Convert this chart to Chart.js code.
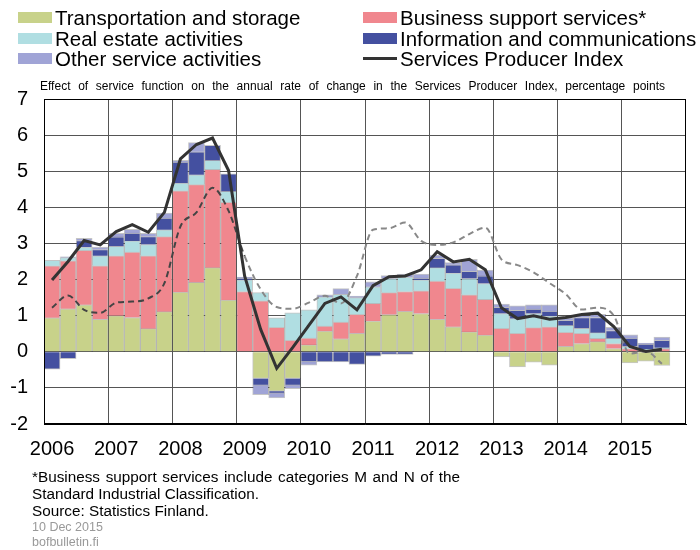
<!DOCTYPE html>
<html>
<head>
<meta charset="utf-8">
<script src="https://cdn.jsdelivr.net/npm/chart.js@4.4.1/dist/chart.umd.min.js"></script>
<style>
    body { margin: 0; background: #fff; }
    #wrap { position: relative; width: 700px; height: 550px; overflow: hidden;
            font-family: "Liberation Sans", Arial, sans-serif; color: #000; }
    #chart { position: absolute; left: 0; top: 0; }
    .leg { position: absolute; font-size: 20.5px; line-height: 21px; white-space: nowrap; }
    .box { position: absolute; width: 34px; height: 11px; top: 5px; }
    .ln { position: absolute; width: 34px; height: 3px; top: 9px; background: #333; }
    #subtitle { position: absolute; left: 40px; top: 79px; width: 625px; font-size: 12px;
                white-space: nowrap; text-align: justify; text-align-last: justify; }
    #notes { position: absolute; left: 32px; top: 468px; font-size: 15.3px; line-height: 17px; }
    #notes .first { width: 428px; white-space: nowrap; text-align: justify; text-align-last: justify; }
    #stamp { position: absolute; left: 32px; top: 520px; font-size: 12.5px; line-height: 15px; color: #999; }
</style>
</head>
<body>
<div id="wrap">
    <canvas id="chart" width="700" height="550"></canvas>
    <div id="legend"></div>
    <div id="subtitle">Effect of service function on the annual rate of change in the Services Producer Index, percentage points</div>
    <div id="notes">
        <div class="first">*Business support services include categories M and N of the</div>
        <div>Standard Industrial Classification.</div>
        <div>Source: Statistics Finland.</div>
    </div>
    <div id="stamp">10 Dec 2015<br>bofbulletin.fi</div>
</div>
<script>
const categories = [
    "2006 Q1", "2006 Q2", "2006 Q3", "2006 Q4",
    "2007 Q1", "2007 Q2", "2007 Q3", "2007 Q4",
    "2008 Q1", "2008 Q2", "2008 Q3", "2008 Q4",
    "2009 Q1", "2009 Q2", "2009 Q3", "2009 Q4",
    "2010 Q1", "2010 Q2", "2010 Q3", "2010 Q4",
    "2011 Q1", "2011 Q2", "2011 Q3", "2011 Q4",
    "2012 Q1", "2012 Q2", "2012 Q3", "2012 Q4",
    "2013 Q1", "2013 Q2", "2013 Q3", "2013 Q4",
    "2014 Q1", "2014 Q2", "2014 Q3", "2014 Q4",
    "2015 Q1", "2015 Q2", "2015 Q3", "2015 Q4",
];
const yearLabels = ["2006", "2007", "2008", "2009", "2010", "2011", "2012", "2013", "2014", "2015"];

const transport = [0.94, 1.19, 1.30, 0.90, 1.00, 0.95, 0.64, 1.11, 1.65, 1.92, 2.33, 1.43,
    0.00, -0.74, -1.09, -0.74, 0.19, 0.57, 0.36, 0.51, 0.85, 1.03, 1.12, 1.06,
    0.90, 0.69, 0.55, 0.46, -0.14, -0.42, -0.29, -0.37, 0.15, 0.23, 0.28, 0.09,
    -0.31, -0.26, -0.38, null];
const business = [1.44, 1.33, 1.51, 1.48, 1.66, 1.81, 2.02, 2.08, 2.81, 2.71, 2.72, 2.71,
    1.67, 1.41, 0.68, 0.32, 0.19, 0.14, 0.46, 0.53, 0.49, 0.61, 0.55, 0.63,
    1.06, 1.07, 1.03, 0.99, 0.65, 0.51, 0.67, 0.69, 0.39, 0.28, 0.09, 0.14,
    0.09, 0.05, 0.09, null];
const realEstate = [0.15, 0.09, 0.09, 0.28, 0.26, 0.31, 0.31, 0.19, 0.21, 0.27, 0.25, 0.30,
    0.32, 0.23, 0.26, 0.76, 0.78, 0.81, 0.77, 0.46, 0.46, 0.39, 0.40, 0.30,
    0.37, 0.42, 0.45, 0.44, 0.41, 0.41, 0.39, 0.30, 0.19, 0.14, 0.16, 0.14,
    0.06, 0.02, 0.02, null];
const information = [-0.48, -0.19, 0.18, 0.17, 0.26, 0.22, 0.22, 0.32, 0.58, 0.64, 0.42, 0.49,
    0.05, -0.19, -0.06, -0.19, -0.28, -0.28, -0.28, -0.35, -0.12, -0.07, -0.07, 0.05,
    0.26, 0.23, 0.20, 0.21, 0.17, 0.23, 0.12, 0.14, 0.14, 0.30, 0.42, 0.22,
    0.23, 0.14, 0.21, null];
const otherServices = [0.00, 0.02, 0.06, 0.07, 0.10, 0.10, 0.09, 0.14, 0.05, 0.25, 0.00, 0.00,
    0.03, -0.26, -0.13, -0.09, -0.09, 0.06, 0.16, 0.04, 0.14, 0.08, 0.08, 0.11,
    0.09, 0.06, 0.33, 0.16, 0.09, 0.12, 0.12, 0.17, 0.07, 0.06, 0.09, 0.09,
    0.09, 0.03, 0.09, null];
const producerIndex = [1.99, 2.50, 3.08, 2.96, 3.33, 3.52, 3.31, 3.86, 5.34, 5.74, 5.92, 5.02,
    2.10, 0.62, -0.46, 0.12, 0.73, 1.34, 1.52, 1.16, 1.83, 2.08, 2.10, 2.27,
    2.77, 2.49, 2.56, 2.27, 1.22, 0.92, 1.00, 0.90, 0.95, 1.03, 1.07, 0.70,
    0.15, 0.01, 0.07, null];
const dashedSeries = [1.22, 1.56, 1.16, 1.08, 1.36, 1.39, 1.48, 1.90, 3.47, 3.86, 4.54, 3.90,
    2.65, 1.73, 1.24, 1.19, 1.36, 1.55, 1.34, 2.10, 3.38, 3.42, 3.58, 3.07,
    2.96, 3.03, 3.26, 3.44, 2.56, 2.40, 2.20, 1.90, 1.60, 1.17, 1.22, 1.00,
    -0.05, 0.01, -0.33, null];

const colors = {
    transport: "#c8d28a",
    business: "#f0878e",
    realEstate: "#b0dee2",
    information: "#4450a0",
    other: "#a0a4d6",
};

// legend built in html (two columns like the original)
const legendItems = [
    {label: "Transportation and storage", color: colors.transport, x: 18, row: 0},
    {label: "Business support services*", color: colors.business, x: 363, row: 0},
    {label: "Real estate activities", color: colors.realEstate, x: 18, row: 1},
    {label: "Information and communications", color: colors.information, x: 363, row: 1},
    {label: "Other service activities", color: colors.other, x: 18, row: 2},
    {label: "Services Producer Index", color: null, x: 363, row: 2},
];
const legendEl = document.getElementById("legend");
legendItems.forEach(function (item) {
    const div = document.createElement("div");
    div.className = "leg";
    div.style.left = item.x + "px";
    div.style.top = (7 + item.row * 20.5) + "px";
    div.style.paddingLeft = "37px";
    const mark = document.createElement("span");
    if (item.color) {
        mark.className = "box";
        mark.style.background = item.color;
    } else {
        mark.className = "ln";
    }
    mark.style.left = "0px";
    div.appendChild(mark);
    div.appendChild(document.createTextNode(item.label));
    legendEl.appendChild(div);
});

function barSet(label, data, color) {
    return {
        type: "bar",
        label: label,
        data: data,
        backgroundColor: color,
        borderColor: "rgba(90,90,90,0.35)",
        borderWidth: 1,
        barPercentage: 1,
        categoryPercentage: 1,
        stack: "bars",
        order: 2,
    };
}

// frame round the plot area
const framePlugin = {
    id: "frame",
    afterDraw(chart) {
        const a = chart.chartArea;
        const c = chart.ctx;
        c.save();
        c.strokeStyle = "#000";
        c.lineWidth = 1;
        c.strokeRect(Math.round(a.left) + 0.5, Math.round(a.top) + 0.5,
            Math.round(a.right - a.left) - 1, Math.round(a.bottom - a.top) - 1);
        c.restore();
    },
};

new Chart(document.getElementById("chart").getContext("2d"), {
    data: {
        labels: categories,
        datasets: [
            barSet("Transportation and storage", transport, colors.transport),
            barSet("Business support services*", business, colors.business),
            barSet("Real estate activities", realEstate, colors.realEstate),
            barSet("Information and communications", information, colors.information),
            barSet("Other service activities", otherServices, colors.other),
            {
                type: "line",
                label: "Services Producer Index",
                data: producerIndex,
                stack: "spi",
                borderColor: "#333",
                borderWidth: 3,
                pointRadius: 0,
                tension: 0,
                fill: false,
                order: 0,
            },
            {
                type: "line",
                label: "",
                data: dashedSeries,
                stack: "dashed",
                borderColor: "#666",
                borderWidth: 2,
                borderDash: [6, 4],
                pointRadius: 0,
                cubicInterpolationMode: "monotone",
                fill: false,
                order: 1,
                segment: {
                    borderColor: function (ctx) {
                        return ctx.p0DataIndex < 12 ? "#444" : "#888";
                    },
                },
            },
        ],
    },
    options: {
        responsive: false,
        animation: false,
        layout: {padding: {top: 99, right: 14, bottom: 86, left: 0}},
        plugins: {
            legend: {display: false},
            tooltip: {enabled: false},
        },
        scales: {
            x: {
                stacked: true,
                offset: true,
                afterFit: function (scale) { scale.height = 40; },
                grid: {
                    offset: true,
                    drawTicks: false,
                    color: function (ctx) {
                        return ctx.index % 4 === 0 ? "#555" : "rgba(0,0,0,0)";
                    },
                },
                border: {color: "#000"},
                ticks: {
                    autoSkip: false,
                    maxRotation: 0,
                    padding: 13,
                    color: "#000",
                    font: {family: "Liberation Sans", size: 20},
                    callback: function (value, index) {
                        return index % 4 === 0 ? yearLabels[index / 4] : "";
                    },
                },
            },
            y: {
                stacked: true,
                min: -2,
                max: 7,
                afterFit: function (scale) { scale.width = 44; },
                grid: {color: "#555", drawTicks: false},
                border: {color: "#000"},
                ticks: {
                    stepSize: 1,
                    padding: 16,
                    color: "#000",
                    font: {family: "Liberation Sans", size: 20},
                },
            },
        },
    },
    plugins: [framePlugin],
});
</script>
</body>
</html>
